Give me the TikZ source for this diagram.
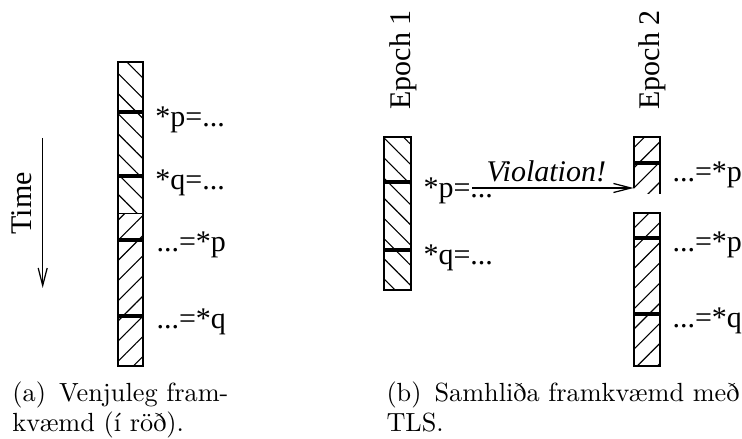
\documentclass[tikz,border=0pt]{standalone}
\usepackage{fontspec}
\newfontfamily\figfont{Liberation Serif}[ItalicFont=Liberation Serif Italic]
\usetikzlibrary{arrows.meta,patterns.meta}

\begin{document}
\begin{tikzpicture}[x=0.4pt, y=-0.4pt,
    lbl/.style={font=\figfont\fontsize{12}{14}\selectfont, anchor=base west, inner sep=0pt},
    vlbl/.style={font=\figfont\fontsize{12}{14}\selectfont, rotate=90, anchor=base west, inner sep=0pt},
    subcap/.style={font=\fontsize{10.5}{12.2}\selectfont, anchor=north west, align=left, inner sep=0pt},
    back/.style={pattern={Lines[angle=-45,distance=5.7pt,line width=0.45pt]}},
    fwd/.style={pattern={Lines[angle=45,distance=5.7pt,line width=0.45pt]}},
    bar/.style={draw, line width=0.8pt},
    sync/.style={line width=1.8pt},
    arr/.style={-{Straight Barb[length=7pt,width=3.6pt]}, line width=0.5pt}
  ]
  \useasboundingbox (0,0) rectangle (742,439);

  % (a) sequential run
  \path[back] (117.5,62.5) rectangle (142.5,214);
  \path[fwd]  (117.5,214)  rectangle (142.5,366);
  \draw (117.5,214) -- (142.5,214);
  \draw[bar] (117.5,62.5) rectangle (142.5,366);
  \draw[sync] (117.5,112) -- (142.5,112);
  \draw[sync] (117.5,176) -- (142.5,176);
  \draw[sync] (117.5,240) -- (142.5,240);
  \draw[sync] (117.5,316) -- (142.5,316);
  \node[lbl] (sp)  at (155,127) {*p=...};
  \node[lbl] (sq)  at (155,190) {*q=...};
  \node[lbl] (lp)  at (156,252) {...=*p};
  \node[lbl] (lq)  at (156,329) {...=*q};

  \coordinate (t0) at (42.7,138);
  \coordinate (t1) at (42.7,288);
  \draw[arr] (t0) -- (t1);
  \node[vlbl] (time) at (31.7,235) {Time};

  % (b) epochs under TLS
  \node[vlbl] (epa) at (410.5,110) {Epoch 1};
  \node[vlbl] (epb) at (659.5,110) {Epoch 2};

  \path[back] (384,137) rectangle (410.5,290);
  \draw[bar]  (384,137) rectangle (410.5,290);
  \draw[sync] (384,182) -- (410.5,182);
  \draw[sync] (384,250) -- (410.5,250);
  \node[lbl] (ep1p) at (423,198) {*p=...};
  \node[lbl] (ep1q) at (423,265) {*q=...};

  \path[fwd] (633.5,137) rectangle (659.5,194);
  \draw[bar] (633.5,188) |- (659.5,137) -- (659.5,194);
  \draw[sync] (633.5,163) -- (659.5,163);
  \path[fwd] (633.5,213) rectangle (659.5,366);
  \draw[bar] (633.5,213) rectangle (659.5,366);
  \draw[sync] (633.5,238) -- (659.5,238);
  \draw[sync] (633.5,314) -- (659.5,314);
  \node[lbl] (ep2p)  at (672,182) {...=*p};
  \node[lbl] (ep2p2) at (672,252) {...=*p};
  \node[lbl] (ep2q)  at (672,328) {...=*q};

  \coordinate (v0) at (472,188);
  \coordinate (v1) at (633.5,188);
  \draw[arr] (v0) -- (v1)
    node[pos=0.46, above=2pt, inner sep=0pt, font=\figfont\fontsize{12}{14}\selectfont\itshape] (viol) {Violation!};

  % captions
  \node[subcap] (capa) at (12,381)  {(a)\enspace Venjuleg fram-\\kvæmd (í röð).};
  \node[subcap] (capb) at (386,381) {(b)\enspace Samhliða framkvæmd með\\TLS.};
\end{tikzpicture}
\end{document}
